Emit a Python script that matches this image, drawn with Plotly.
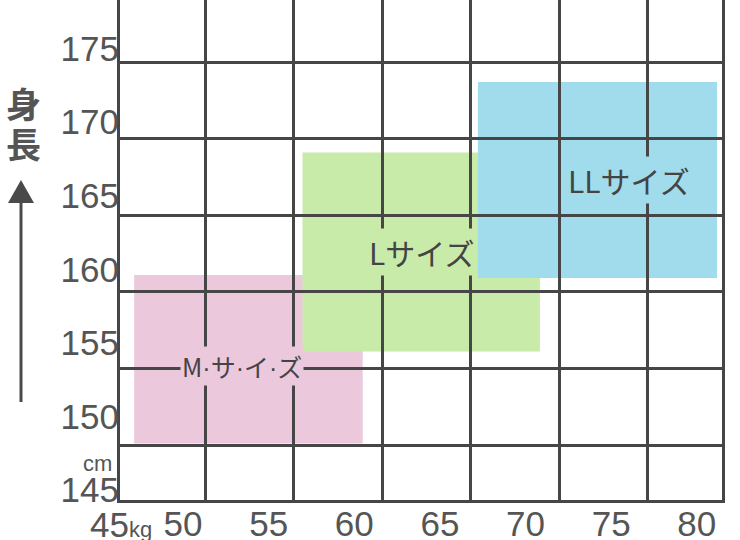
import plotly.graph_objects as go

# ---- data ----
size_names = ["M·サ·イ·ズ", "Lサイズ", "LLサイズ"]
weight_min = [46.0, 55.5, 65.4]
weight_max = [58.9, 68.9, 78.9]
height_min = [150.1, 156.1, 160.9]
height_max = [161.1, 169.1, 173.7]

grid_weights = [50, 55, 60, 65, 70, 75]
grid_heights = [150, 155, 160, 165, 170, 175]

x_first_label = "45"
x_unit = "kg"
y_unit = "cm"
x_tick_labels = ["50", "55", "60", "65", "70", "75", "80"]
y_tick_labels = ["145", "150", "155", "160", "165", "170", "175"]

# ---- styles ----
fill_colors = ["#ebc8dc", "#c8ebaa", "#a0dceb"]
label_font = [25, 30, 30]
label_shift = [(-6, -7), (0, 0), (32, 0)]
LINE = "#464646"
TXT = "#555555"
W, H = 740, 540
L_M, R_M, T_M, B_M = 120, 18, 0, 40
PW, PH = W - L_M - R_M, H - T_M - B_M


def px_x(px):
    return (px - L_M) / PW


def px_y(py):
    return (H - B_M - py) / PH


def label_text(name):
    # narrow Latin middle dots between the kana
    return name.replace("·", "<span style='font-family:Liberation Sans'>·</span>")


fig = go.Figure()
# helper trace to bind the label axes
fig.add_trace(go.Scatter(x=[None], y=[None], xaxis="x2", yaxis="y2",
                         showlegend=False, hoverinfo="skip"))

shapes = []
annotations = []
for i, name in enumerate(size_names):
    shapes.append(dict(type="rect", xref="x", yref="y", layer="below",
                       x0=weight_min[i], x1=weight_max[i],
                       y0=height_min[i], y1=height_max[i],
                       fillcolor=fill_colors[i], line=dict(width=0)))
    annotations.append(dict(x=(weight_min[i] + weight_max[i]) / 2,
                            y=(height_min[i] + height_max[i]) / 2,
                            xref="x", yref="y", text=label_text(name), showarrow=False,
                            xanchor="center", yanchor="middle",
                            xshift=label_shift[i][0], yshift=label_shift[i][1],
                            bgcolor=fill_colors[i], borderpad=1,
                            font=dict(family="Noto Sans CJK JP", size=label_font[i], color="#444444")))

# vertical axis title and arrow
for ch, py in [("身", 103), ("長", 142)]:
    annotations.append(dict(x=px_x(23), y=px_y(py), xref="paper", yref="paper", text=f"<b>{ch}</b>",
                            xanchor="center", yanchor="middle", showarrow=False,
                            font=dict(family="Noto Sans CJK JP", size=35, color="#555555")))
annotations.append(dict(x=px_x(114), y=px_y(463), xref="paper", yref="paper", text=y_unit,
                        xanchor="right", yanchor="middle", showarrow=False,
                        font=dict(family="Liberation Sans", size=22, color=TXT)))
annotations.append(dict(x=px_x(121), y=px_y(524), xref="paper", yref="paper",
                        text=f"{x_first_label}<span style='font-size:22px'>{x_unit}</span>",
                        xanchor="center", yanchor="middle", showarrow=False,
                        font=dict(family="Liberation Sans", size=35, color=TXT)))
shapes.append(dict(type="line", xref="paper", yref="paper",
                   x0=px_x(21), x1=px_x(21), y0=px_y(402), y1=px_y(200),
                   line=dict(color="#4a4a4a", width=3)))
shapes.append(dict(type="path", xref="paper", yref="paper",
                   path=f"M {px_x(21)},{px_y(180)} L {px_x(8)},{px_y(203)} L {px_x(34)},{px_y(203)} Z",
                   fillcolor="#4a4a4a", line=dict(width=0)))

fig.update_layout(
    width=W, height=H,
    margin=dict(l=L_M, r=R_M, t=T_M, b=B_M),
    paper_bgcolor="white", plot_bgcolor="white",
    showlegend=False,
    shapes=shapes, annotations=annotations,
    xaxis=dict(range=[45.2, 79.18], tickvals=grid_weights, showticklabels=False,
               showgrid=True, gridcolor=LINE, gridwidth=2.5, zeroline=False,
               showline=True, linecolor=LINE, linewidth=2.5, ticks="", automargin=False),
    yaxis=dict(range=[146.41, 179.05], tickvals=grid_heights, showticklabels=False,
               showgrid=True, gridcolor=LINE, gridwidth=2.5, zeroline=False,
               showline=True, mirror=True, linecolor=LINE, linewidth=2.5, ticks="", automargin=False),
    xaxis2=dict(overlaying="x", anchor="y", side="bottom", range=[46.32, 81.47],
                tickvals=[50, 55, 60, 65, 70, 75, 80], ticktext=x_tick_labels,
                showgrid=False, zeroline=False, showline=False, ticks="", automargin=False,
                tickfont=dict(family="Liberation Sans", size=35, color=TXT)),
    yaxis2=dict(overlaying="y", anchor="x", side="left", range=[144.33, 178.29],
                tickvals=[145, 150, 155, 160, 165, 170, 175], ticktext=y_tick_labels,
                showgrid=False, zeroline=False, showline=False, ticks="", automargin=False,
                tickfont=dict(family="Liberation Sans", size=35, color=TXT)),
)

fig.write_html("out.html", config={"displayModeBar": False},
               post_script="document.body.style.margin='0';")
